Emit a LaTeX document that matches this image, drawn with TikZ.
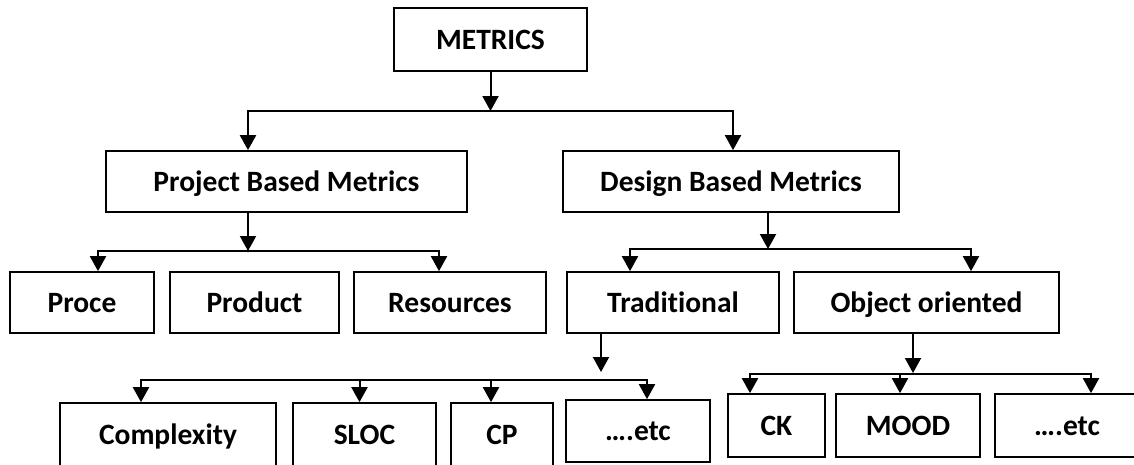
\documentclass[tikz,border=0pt]{standalone}
\usepackage{fontspec}
\setmainfont{Carlito}[Ligatures=NoCommon]
\usetikzlibrary{arrows.meta}

\tikzset{
  box/.style={draw, line width=1.7pt, inner sep=0pt,
    font=\bfseries\fontsize{29.5}{34}\selectfont, text height=19pt, text depth=0pt},
  arr/.style={line width=2pt, -{Triangle[width=16pt,length=15pt]}},
  bar/.style={line width=2pt, line cap=rect}
}

\begin{document}
\begin{tikzpicture}[x=1pt,y=-1pt]
    \clip (0,0) rectangle (1134,464);
    \fill[white] (0,0) rectangle (1134,464);
    % boxes
    \node[box, minimum width=193pt, minimum height=63pt] (metrics) at (490.5,39.5) {METRICS};
    \node[box, minimum width=361pt, minimum height=61pt] (project) at (286.5,181.5) {Project Based Metrics};
    \node[box, minimum width=336pt, minimum height=61pt] (design) at (731,181.5) {Design Based Metrics};
    \node[box, minimum width=144pt, minimum height=61pt] (proce) at (82,302.5) {Proce};
    \node[box, minimum width=169pt, minimum height=61pt] (product) at (254.5,302.5) {Product};
    \node[box, minimum width=192pt, minimum height=61pt] (resources) at (450,302.5) {Resources};
    \node[box, minimum width=212pt, minimum height=61pt] (trad) at (673,302.5) {Traditional};
    \node[box, minimum width=265pt, minimum height=61pt] (oo) at (926.5,302.5) {Object oriented};
    \node[box, minimum width=216pt, minimum height=63pt] (complexity) at (168,434.5) {Complexity};
    \node[box, minimum width=143pt, minimum height=63pt] (sloc) at (364.5,434.5) {SLOC};
    \node[box, minimum width=102pt, minimum height=63pt] (cp) at (502,434.5) {CP};
    \node[box, minimum width=144pt, minimum height=62pt] (etcA) at (638,431) {\ldots.etc};
    \node[box, minimum width=97pt, minimum height=63pt] (ck) at (776.5,425.5) {CK};
    \node[box, minimum width=144pt, minimum height=63pt] (mood) at (908,425.5) {MOOD};
    \node[box, minimum width=144pt, minimum height=63pt] (etcB) at (1067,425.5) {\ldots.etc};

    % junctions
    \coordinate (mj) at (490.5,111);
    \coordinate (ml) at (248,111);
    \coordinate (mr) at (733,111);
    \coordinate (pj) at (248,251);
    \coordinate (pl) at (98,251);
    \coordinate (pr) at (439,251);
    \coordinate (dj) at (768,249);
    \coordinate (dl) at (630,249);
    \coordinate (dr) at (971,249);
    \coordinate (tj) at (601,372);
    \coordinate (tl) at (141,380);
    \coordinate (tr) at (647,380);
    \coordinate (oj) at (913,373);
    \coordinate (ol) at (750,374);
    \coordinate (or) at (1091,374);

    % METRICS
    \draw[arr] (metrics.south) -- (mj);
    \draw[bar] (ml) -- (mr);
    \draw[arr] (ml) -- (ml |- project.north);
    \draw[arr] (mr) -- (mr |- design.north);
    % project based
    \draw[arr] (pj |- project.south) -- (pj);
    \draw[bar] (pl) -- (pr);
    \draw[arr] (pl) -- (pl |- proce.north);
    \draw[arr] (pr) -- (pr |- resources.north);
    % design based
    \draw[arr] (dj |- design.south) -- (dj);
    \draw[bar] (dl) -- (dr);
    \draw[arr] (dl) -- (dl |- trad.north);
    \draw[arr] (dr) -- (dr |- oo.north);
    % traditional
    \draw[arr] (tj |- trad.south) -- (tj);
    \draw[bar] (tl) -- (tr);
    \draw[arr] (tl) -- (tl |- complexity.north);
    \draw[arr] (tl -| sloc.center) ++(-5,0) coordinate (ts) -- (ts |- sloc.north);
    \draw[arr] (tl -| cp.center) ++(-11,0) coordinate (tc) -- (tc |- cp.north);
    \draw[arr] (tr) -- (tr |- etcA.north);
    % object oriented
    \draw[arr] (oj |- oo.south) -- (oj);
    \draw[bar] (ol) -- (or);
    \draw[arr] (ol) -- (ol |- ck.north);
    \draw[arr] (ol -| mood.center) ++(-8,0) coordinate (om) -- (om |- mood.north);
    \draw[arr] (or) -- (or |- etcB.north);
\end{tikzpicture}
\end{document}
